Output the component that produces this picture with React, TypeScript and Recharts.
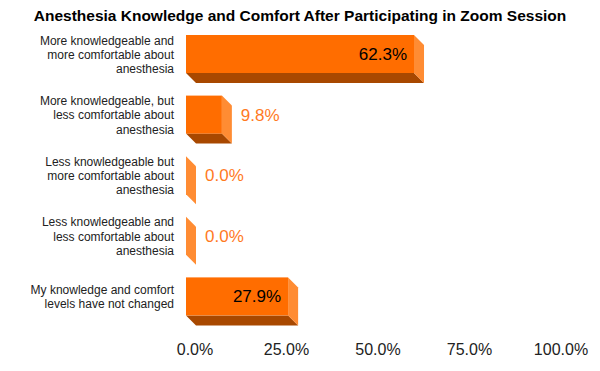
import { BarChart, Bar, XAxis, YAxis, LabelList } from 'recharts'

const categories = [
  'More knowledgeable and\nmore comfortable about\nanesthesia',
  'More knowledgeable, but\nless comfortable about\nanesthesia',
  'Less knowledgeable but\nmore comfortable about\nanesthesia',
  'Less knowledgeable and\nless comfortable about\nanesthesia',
  'My knowledge and comfort\nlevels have not changed',
]
const values = [62.3, 9.8, 0, 0, 27.9]
const xTicks = [0, 25, 50, 75, 100]

const FRONT = '#ff6d00'
const SIDE = '#ff8c33'
const BOTTOM = '#a84800'
const DEPTH = 10
const FONT = '"Liberation Sans", Arial, sans-serif'

const data = categories.map((name, i) => ({ name, value: values[i] }))

function Bar3D(props: any) {
  const { x, y, width, height } = props
  const w = Math.max(0, width || 0)
  const d = DEPTH
  return (
    <g>
      {w > 0 && (
        <polygon
          points={`${x},${y + height} ${x + w},${y + height} ${x + w + d},${y + height + d} ${x + d},${y + height + d}`}
          fill={BOTTOM}
        />
      )}
      <polygon
        points={`${x + w},${y} ${x + w + d},${y + d} ${x + w + d},${y + height + d} ${x + w},${y + height}`}
        fill={SIDE}
      />
      {w > 0 && <rect x={x} y={y} width={w} height={height} fill={FRONT} />}
    </g>
  )
}

function ValueLabel(props: any) {
  const { x, y, width, height, value } = props
  const w = Math.max(0, width || 0)
  const inside = w > 60
  const text = `${Number(value).toFixed(1)}%`
  return (
    <text
      x={inside ? x + w - 7 : x + w + 19}
      y={y + height / 2 + 6}
      textAnchor={inside ? 'end' : 'start'}
      fill={inside ? '#000000' : '#ff7a1f'}
      fontSize={17}
      fontFamily={FONT}
    >
      {text}
    </text>
  )
}

function CategoryTick(props: any) {
  const { x, y, payload } = props
  const lines = String(payload.value).split('\n')
  const lh = 14.2
  return (
    <g>
      {lines.map((line, i) => (
        <text
          key={i}
          x={x - 12}
          y={y + (i - (lines.length - 1) / 2) * lh + 4.5}
          textAnchor="end"
          fontSize={12}
          fontFamily={FONT}
          fill="#222222"
        >
          {line}
        </text>
      ))}
    </g>
  )
}

function PercentTick(props: any) {
  const { x, y, payload } = props
  return (
    <text x={x + 9} y={y + 28} textAnchor="middle" fontSize={16} fontFamily={FONT} fill="#222222">
      {`${Number(payload.value).toFixed(1)}%`}
    </text>
  )
}

export default function App() {
  return (
    <div style={{ position: 'absolute', left: 0, top: 0, width: 600, height: 371, background: '#fff' }}>
      <div
        style={{
          position: 'absolute',
          left: 0,
          top: 7.5,
          width: 600,
          textAlign: 'center',
          fontFamily: FONT,
          fontWeight: 'bold',
          fontSize: 15.5,
          lineHeight: '16px',
          color: '#000',
        }}
      >
        Anesthesia Knowledge and Comfort After Participating in Zoom Session
      </div>
      <BarChart
        width={600}
        height={371}
        data={data}
        layout="vertical"
        margin={{ top: 24, right: 48, bottom: 14, left: 0 }}
        barSize={38}
      >
        <XAxis
          type="number"
          domain={[0, 100]}
          ticks={xTicks}
          height={30}
          axisLine={false}
          tickLine={false}
          tickSize={0}
          tickMargin={0}
          tick={<PercentTick />}
          interval={0}
        />
        <YAxis
          type="category"
          dataKey="name"
          width={186}
          axisLine={false}
          tickLine={false}
          tickSize={0}
          tickMargin={0}
          tick={<CategoryTick />}
          interval={0}
        />
        <Bar dataKey="value" shape={<Bar3D />} isAnimationActive={false}>
          <LabelList dataKey="value" content={<ValueLabel />} />
        </Bar>
      </BarChart>
    </div>
  )
}
